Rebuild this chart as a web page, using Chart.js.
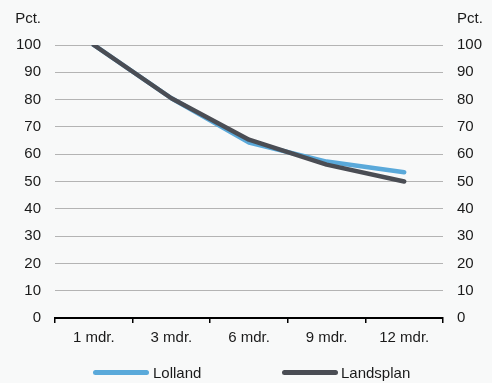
<!DOCTYPE html>
<html>
<head>
<meta charset="utf-8">
<script src="https://cdn.jsdelivr.net/npm/chart.js@4/dist/chart.umd.min.js"></script>
<style>
  html, body { margin: 0; padding: 0; background: #f8f9f9; }
  #wrap { position: relative; width: 492px; height: 383px; background: #f8f9f9; }
  #c { position: absolute; left: 0; top: 0; }
  #legend { position: absolute; left: 0; top: 362px; width: 492px; height: 20px;
            font-family: "Liberation Sans", Arial, sans-serif; font-size: 15px; color: #1a1a1a; }
  .sw { position: absolute; top: 7.5px; height: 5px; border-radius: 3px; }
  .lbl { position: absolute; top: 1px; line-height: 20px; white-space: nowrap; }
</style>
</head>
<body>
<div id="wrap">
  <canvas id="c" width="492" height="383"></canvas>
  <div id="legend"></div>
</div>
<script>
const categories = ["1 mdr.", "3 mdr.", "6 mdr.", "9 mdr.", "12 mdr."];
const lolland = [100, 80.5, 64.3, 57.3, 53.4];
const landsplan = [100, 80.5, 65.3, 56.2, 50.0];
const seriesNames = ["Lolland", "Landsplan"];
const seriesColors = ["#5aa9da", "#4a4d54"];
const yTicks = [0, 10, 20, 30, 40, 50, 60, 70, 80, 90, 100];
const unitLabel = "Pct.";

const FONT = "'Liberation Sans', Arial, sans-serif";
const TXT = "#1a1a1a";

const unitPlugin = {
  id: 'unitPlugin',
  afterDraw(chart) {
    const ctx = chart.ctx;
    ctx.save();
    ctx.font = "15px " + FONT;
    ctx.fillStyle = TXT;
    ctx.textBaseline = "middle";
    const yl = chart.scales.y, yr = chart.scales.y2;
    ctx.textAlign = "right";
    ctx.fillText(unitLabel, yl.right - 14, 19);
    ctx.textAlign = "left";
    ctx.fillText(unitLabel, yr.left + 14, 19);
    ctx.restore();
  }
};

const chart = new Chart(document.getElementById('c'), {
  type: 'line',
  data: {
    labels: categories,
    datasets: [
      { label: seriesNames[0], data: lolland, borderColor: seriesColors[0], backgroundColor: seriesColors[0], order: 1, yAxisID: 'y' },
      { label: seriesNames[1], data: landsplan, borderColor: seriesColors[1], backgroundColor: seriesColors[1], order: 0, yAxisID: 'y' }
    ]
  },
  options: {
    responsive: false,
    animation: false,
    devicePixelRatio: 1,
    layout: { padding: { top: 45, bottom: 35, left: 0, right: 0 } },
    elements: {
      line: { borderWidth: 4.5, tension: 0, borderCapStyle: 'round', borderJoinStyle: 'round', fill: false },
      point: { radius: 0, hoverRadius: 0 }
    },
    plugins: { legend: { display: false }, tooltip: { enabled: false } },
    scales: {
      x: {
        type: 'category',
        offset: true,
        grid: { offset: true, drawOnChartArea: false, drawTicks: true, tickLength: 5, color: '#000', lineWidth: 1.5 },
        border: { display: true, color: '#000', width: 2 },
        ticks: { color: TXT, font: { family: FONT, size: 15 }, padding: 6, maxRotation: 0, autoSkip: false },
        afterFit(s) { s.height = 30; }
      },
      y: {
        position: 'left',
        min: 0, max: 100,
        afterBuildTicks(s) { s.ticks = yTicks.map(v => ({ value: v })); },
        grid: { color: '#b4b4b4', lineWidth: 1, drawTicks: false },
        border: { display: false },
        ticks: { color: TXT, font: { family: FONT, size: 15 }, padding: 14 },
        afterFit(s) { s.width = 55; }
      },
      y2: {
        position: 'right',
        min: 0, max: 100,
        afterBuildTicks(s) { s.ticks = yTicks.map(v => ({ value: v })); },
        grid: { drawOnChartArea: false, drawTicks: false },
        border: { display: false },
        ticks: { color: TXT, font: { family: FONT, size: 15 }, padding: 14 },
        afterFit(s) { s.width = 49; }
      }
    }
  },
  plugins: [unitPlugin]
});

// HTML legend built from datasets
const legendPos = [{ box: 93, text: 153 }, { box: 282, text: 341 }];
const legendEl = document.getElementById('legend');
chart.data.datasets.forEach((ds, i) => {
  const sw = document.createElement('div');
  sw.className = 'sw';
  sw.style.left = legendPos[i].box + 'px';
  sw.style.width = '56px';
  sw.style.background = ds.borderColor;
  const lb = document.createElement('div');
  lb.className = 'lbl';
  lb.style.left = legendPos[i].text + 'px';
  lb.textContent = ds.label;
  legendEl.appendChild(sw);
  legendEl.appendChild(lb);
});
</script>
</body>
</html>
